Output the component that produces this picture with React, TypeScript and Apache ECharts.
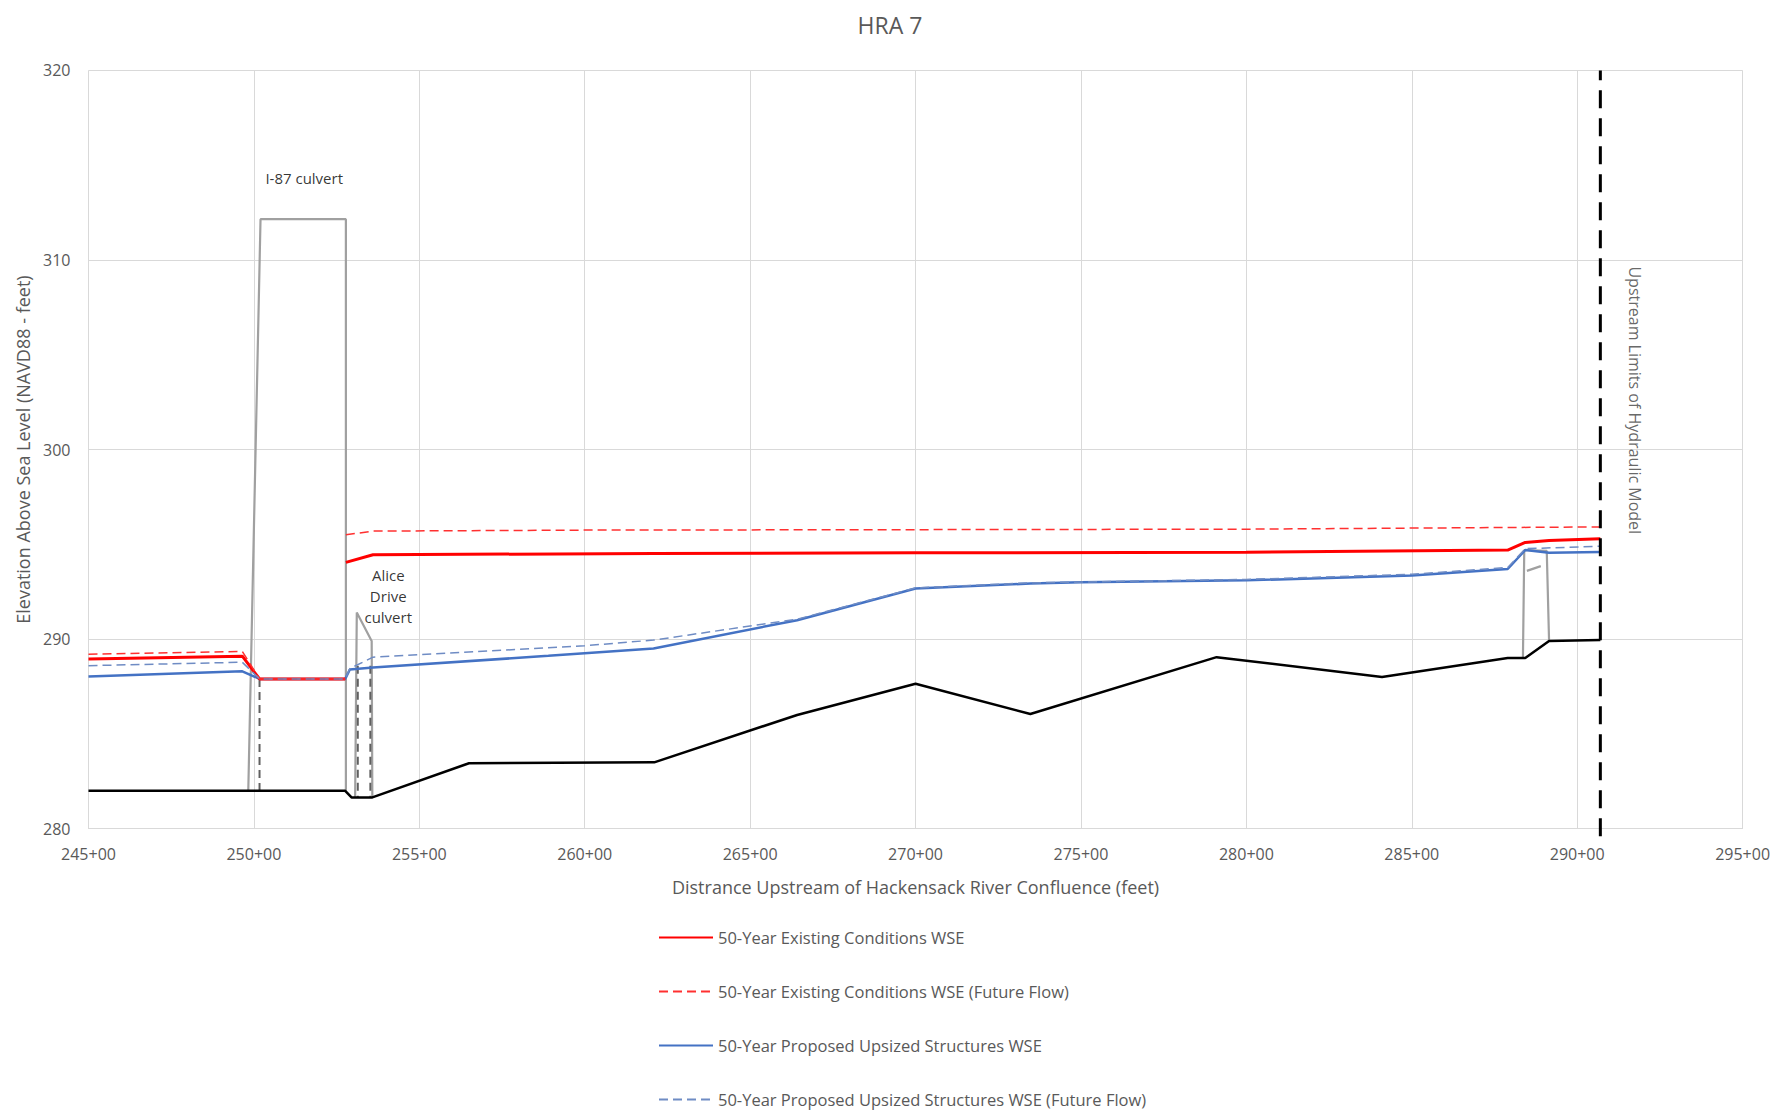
import React, { useEffect, useRef } from "react";
import * as echarts from "echarts";

type Pt = [number, number | null];

const TITLE = "HRA 7";
const X_NAME = "Distrance Upstream of Hackensack River Confluence (feet)";
const Y_NAME = "Elevation Above Sea Level (NAVD88 - feet)";

const X_MIN = 24500;
const X_MAX = 29500;
const X_STEP = 500;
const Y_MIN = 280;
const Y_MAX = 320;
const Y_STEP = 10;

const SERIES_NAMES = [
  "50-Year Existing Conditions WSE",
  "50-Year Existing Conditions WSE (Future Flow)",
  "50-Year Proposed Upsized Structures WSE",
  "50-Year Proposed Upsized Structures WSE (Future Flow)",
];

// [station (ft), elevation (ft)]
const existingWSE: Pt[] = [
  [24500, 288.95], [24965, 289.1], [25017, 287.9], [25276, 287.9], [25276, null],
  [25278, 294.05], [25360, 294.45], [26210, 294.52], [27000, 294.55], [28000, 294.58],
  [28790, 294.7], [28843, 295.1], [28915, 295.2], [29070, 295.3],
];

const existingFutureWSE: Pt[] = [
  [24500, 289.2], [24965, 289.35], [25017, 287.9], [25276, 287.9], [25276, null],
  [25278, 295.5], [25360, 295.7], [26000, 295.75], [28000, 295.8], [29070, 295.92],
];

const proposedWSE: Pt[] = [
  [24500, 288.03], [24965, 288.3], [25017, 287.9], [25276, 287.9], [25290, 288.4],
  [25360, 288.5], [25890, 289.12], [26208, 289.51], [26642, 291.0], [27000, 292.67],
  [27347, 292.93], [27500, 293.0], [28000, 293.1], [28500, 293.35], [28790, 293.7],
  [28843, 294.7], [28915, 294.56], [29070, 294.6],
];

const proposedFutureWSE: Pt[] = [
  [24500, 288.6], [24965, 288.78], [25017, 287.9], [25276, 287.9], [25290, 288.45],
  [25360, 289.05], [26000, 289.65], [26208, 289.95], [26642, 291.05], [27000, 292.7],
  [27347, 292.97], [28000, 293.15], [28500, 293.42], [28790, 293.78], [28843, 294.77],
  [29070, 294.9],
];

const channelInvert: Pt[] = [
  [24500, 282.0], [25276, 282.0], [25295, 281.65], [25358, 281.65], [25650, 283.45],
  [26210, 283.5], [26642, 286.0], [27000, 287.65], [27347, 286.05], [27910, 289.05],
  [28410, 288.0], [28790, 289.0], [28843, 289.0], [28915, 289.9], [29070, 289.95],
];

const culvertOutlines: Pt[] = [
  [24983, 282.0], [25020, 312.15], [25278, 312.15], [25278, 282.0], [25278, null],
  [25306, 281.65], [25311, 291.4], [25356, 289.9], [25358, 281.65], [25358, null],
  [28836, 289.0], [28840, 294.7], [28908, 294.65], [28915, 289.9], [28915, null],
  [28848, 293.6], [28890, 293.85],
];

const culvertDashed: Pt[] = [
  [25017, 287.9], [25017, 282.0], [25017, null],
  [25314, 288.6], [25314, 281.65], [25314, null],
  [25352, 288.6], [25352, 281.65],
];

const upstreamLimit: Pt[] = [[29070, 279.6], [29070, 320]];

const annotations = [
  { station: 25152, elev: 314.3, text: "I-87 culvert", rotate: 0 },
  { station: 25406, elev: 292.3, text: "Alice\nDrive\nculvert", rotate: 0 },
  { station: 29174, elev: 302.6, text: "Upstream Limits of Hydraulic Model", rotate: -90 },
];

const FONT = "'Open Sans', 'Noto Sans', sans-serif";
const GRAY_TEXT = "#595959";

export default function App() {
  const ref = useRef<HTMLDivElement>(null);

  useEffect(() => {
    if (!ref.current) return;
    const chart = echarts.init(ref.current, undefined, { renderer: "svg" });

    const lineBase = {
      type: "line" as const,
      showSymbol: false,
      symbol: "none",
      connectNulls: false,
      silent: true,
    };

    chart.setOption({
      animation: false,
      backgroundColor: "#ffffff",
      textStyle: { fontFamily: FONT },
      title: {
        text: TITLE,
        left: "center",
        top: 8,
        textStyle: { fontSize: 23, fontWeight: "normal", color: GRAY_TEXT, fontFamily: FONT },
      },
      grid: { left: 88.5, right: 37.4, top: 70.4, bottom: 281.3, containLabel: false },
      legend: {
        data: SERIES_NAMES,
        orient: "vertical",
        left: 658,
        top: 929,
        padding: 0,
        itemWidth: 54,
        itemHeight: 16,
        itemGap: 37,
        itemStyle: { opacity: 0 },
        textStyle: { fontSize: 16.5, color: GRAY_TEXT, fontFamily: FONT },
        selectedMode: false,
      },
      xAxis: {
        type: "value",
        min: X_MIN,
        max: X_MAX,
        interval: X_STEP,
        name: X_NAME,
        nameLocation: "middle",
        nameGap: 49,
        nameTextStyle: { fontSize: 18, color: GRAY_TEXT, fontFamily: FONT },
        axisLine: { show: true, lineStyle: { color: "#d9d9d9" } },
        axisTick: { show: false },
        axisLabel: {
          color: GRAY_TEXT,
          fontSize: 16,
          margin: 17,
          formatter: (v: number) => `${Math.round(v / 100)}+00`,
        },
        splitLine: { show: true, lineStyle: { color: "#d9d9d9", width: 1 } },
      },
      yAxis: {
        type: "value",
        min: Y_MIN,
        max: Y_MAX,
        interval: Y_STEP,
        name: Y_NAME,
        nameLocation: "middle",
        nameGap: 56,
        nameTextStyle: { fontSize: 18, color: GRAY_TEXT, fontFamily: FONT },
        axisLine: { show: false },
        axisTick: { show: false },
        axisLabel: { color: GRAY_TEXT, fontSize: 16, margin: 18 },
        splitLine: { show: true, lineStyle: { color: "#d9d9d9", width: 1 } },
      },
      series: [
        {
          ...lineBase,
          name: "culverts",
          data: culvertOutlines,
          lineStyle: { color: "#a0a0a0", width: 2.2 },
        },
        {
          ...lineBase,
          name: "culvertDashed",
          data: culvertDashed,
          lineStyle: { color: "#606060", width: 2, type: [8, 5] },
        },
        {
          ...lineBase,
          name: "channel",
          data: channelInvert,
          lineStyle: { color: "#000000", width: 2.5 },
        },
        {
          ...lineBase,
          name: SERIES_NAMES[2],
          data: proposedWSE,
          itemStyle: { color: "#4472c4" },
          lineStyle: { color: "#4472c4", width: 2.5 },
        },
        {
          ...lineBase,
          name: SERIES_NAMES[0],
          data: existingWSE,
          itemStyle: { color: "#ff0000" },
          lineStyle: { color: "#ff0000", width: 3 },
        },
        {
          ...lineBase,
          name: SERIES_NAMES[1],
          data: existingFutureWSE,
          itemStyle: { color: "#ff0000" },
          lineStyle: { color: "#ff3030", width: 1.5, type: [9, 5] },
        },
        {
          ...lineBase,
          name: SERIES_NAMES[3],
          data: proposedFutureWSE,
          itemStyle: { color: "#7391c8" },
          lineStyle: { color: "#6f8cc4", width: 1.5, type: [9, 5] },
        },
        {
          ...lineBase,
          name: "upstreamLimit",
          data: upstreamLimit,
          clip: false,
          lineStyle: { color: "#000000", width: 3, type: [18, 10] },
        },
        {
          type: "scatter",
          name: "annotations",
          silent: true,
          symbolSize: 1,
          itemStyle: { color: "rgba(0,0,0,0)" },
          data: annotations.map((a) => ({
            value: [a.station, a.elev],
            label: {
              show: true,
              position: "inside",
              formatter: a.text,
              rotate: a.rotate,
              align: "center",
              verticalAlign: "middle",
              fontSize: a.rotate ? 16 : 15,
              lineHeight: 21,
              color: a.rotate ? "#404040" : "#000000",
              fontFamily: FONT,
            },
          })),
        },
      ],
    });

    return () => chart.dispose();
  }, []);

  return (
    <div
      ref={ref}
      style={{ position: "fixed", left: 0, top: 0, width: 1780, height: 1110 }}
    />
  );
}
